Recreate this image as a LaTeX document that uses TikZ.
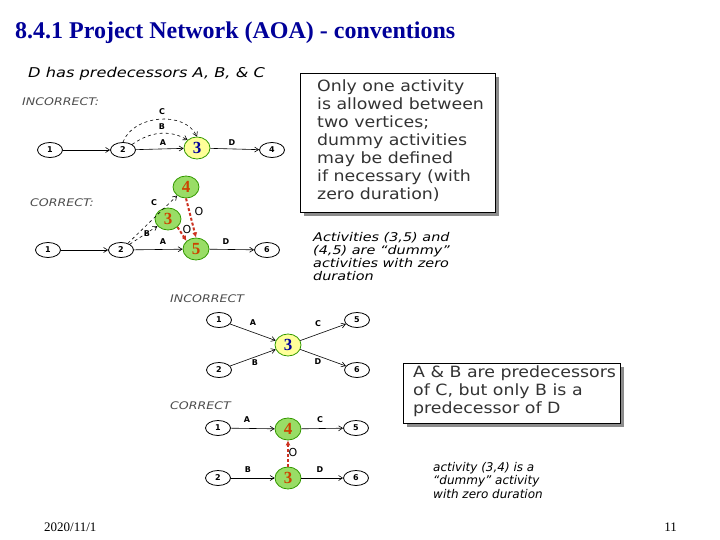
\documentclass[tikz,border=0pt]{standalone}
\usepackage{fontspec}
\setmainfont{Liberation Serif}
\setsansfont{DejaVu Sans}
\newfontfamily\boxfont[FakeStretch=1.12,Ligatures=TeX]{DejaVu Sans}
\newfontfamily\wideit[FakeStretch=1.2,Ligatures=TeX]{DejaVu Sans Oblique}
\usetikzlibrary{arrows.meta,shapes.geometric,positioning}

\definecolor{titleblue}{HTML}{000099}
\definecolor{evgreen}{HTML}{339900}
\definecolor{evfill}{HTML}{99DD66}
\definecolor{evyellow}{HTML}{FFFF99}
\definecolor{evorange}{HTML}{CC4400}
\definecolor{dummyred}{HTML}{CC3322}

\begin{document}
\begin{tikzpicture}[x=1pt, y=-1pt, >={Straight Barb[length=4pt,width=5pt]},
    event/.style={draw, ellipse, thick, minimum width=25pt, minimum height=15pt, inner sep=0pt, font=\sffamily\bfseries\fontsize{8}{8}\selectfont},
    keyevent/.style={draw=evgreen, fill=evyellow, ellipse, thick, minimum width=26pt, minimum height=22pt, inner sep=0pt, text=titleblue, font=\bfseries\fontsize{17}{17}\selectfont},
    dummyevent/.style={draw=evgreen, fill=evfill, ellipse, thick, minimum width=26pt, minimum height=22pt, inner sep=0pt, text=evorange, font=\bfseries\fontsize{17}{17}\selectfont},
    act/.style={->, semithick},
    actdash/.style={->, semithick, dashed},
    dummy/.style={-{Latex[length=5pt,width=5pt]}, dummyred, line width=2pt, dash pattern=on 3pt off 2pt},
    lbl/.style={font=\sffamily\bfseries\fontsize{8}{8}\selectfont, inner sep=0pt},
    zero/.style={font=\sffamily\fontsize{11}{11}\selectfont, inner sep=0pt},
    heading/.style={font=\wideit\fontsize{10.5}{10.5}\selectfont, text=black!70, anchor=west, inner sep=0pt},
    note/.style={font=\wideit\fontsize{12}{13}\selectfont, align=left, anchor=north west, inner sep=0pt},
    boxtext/.style={font=\boxfont\fontsize{15.5}{18}\selectfont, align=left, anchor=north west, inner sep=0pt, text=black!80}]
  \useasboundingbox (0,0) rectangle (720,540);

  % title and footer
  \node[anchor=west, inner sep=0pt, text=titleblue, font=\bfseries\fontsize{24}{24}\selectfont] (title) at (15,33) {8.4.1 Project Network (AOA) - conventions};
  \node[anchor=west, inner sep=0pt, font=\fontsize{13}{13}\selectfont] (date) at (44,527) {2020/11/1};
  \node[anchor=east, inner sep=0pt, font=\fontsize{13}{13}\selectfont] (page) at (677,527) {11};

  % top part: D has predecessors A, B and C
  \node[anchor=west, inner sep=0pt, font=\wideit\fontsize{13.5}{13.5}\selectfont] (headD) at (28,74) {D has predecessors A, B, \& C};
  \node[heading] (wrong1) at (22,102) {INCORRECT:};
  \node[event] (i1) at (50,150) {1};
  \node[event] (i2) at (123,150) {2};
  \node[keyevent] (i3) at (197,148) {3};
  \node[event] (i4) at (272,150) {4};
  \draw[act] (i1) -- (i2);
  \draw[act] (i2) -- (i3);
  \draw[act] (i3) -- (i4);
  \draw[actdash] (i2.north) to[out=70, in=115] (i3.north);
  \draw[actdash] (i2.north east) to[out=35, in=150] (i3.north west);
  \node[lbl] (iC) at (162,112) {C};
  \node[lbl] (iB) at (162,127) {B};
  \node[lbl] (iA) at (163,143) {A};
  \node[lbl] (iD) at (232,143) {D};

  \node[heading] (right1) at (30,203) {CORRECT:};
  \node[event] (c1) at (48,250) {1};
  \node[event] (c2) at (121,250) {2};
  \node[dummyevent] (c4) at (186,187) {4};
  \node[dummyevent] (c3) at (168,219) {3};
  \node[dummyevent] (c5) at (196,249) {5};
  \node[event] (c6) at (267,250) {6};
  \draw[act] (c1) -- (c2);
  \draw[act] (c2) -- (c5);
  \draw[act] (c5) -- (c6);
  \draw[actdash] (c2) -- (c4);
  \draw[actdash] (c2) -- (c3);
  \draw[dummy] (c4.south) -- (c5.north);
  \draw[dummy] (c3.south east) -- (c5.north west);
  \node[lbl] (cC) at (154,203) {C};
  \node[lbl] (cB) at (147,234) {B};
  \node[lbl] (cA) at (163,242) {A};
  \node[lbl] (cD) at (226,242) {D};
  \node[zero] (c45) at (199,211) {O};
  \node[zero] (c35) at (187,229) {O};

  \fill[black!45] (304,77) rectangle (499,216);
  \draw[fill=white, semithick] (300,73) rectangle (495,212);
  \node[boxtext] (rule) at (317,80) {Only one activity\\is allowed between\\two vertices;\\dummy activities\\may be defined\\if necessary (with\\zero duration)};
  \node[note] (dummynote) at (313,232) {Activities (3,5) and\\(4,5) are ``dummy''\\activities with zero\\duration};

  % middle part: A and B before C, only B before D
  \node[heading] (wrong2) at (170,299) {INCORRECT};
  \node[event] (m1) at (219,320) {1};
  \node[event] (m2) at (219,370) {2};
  \node[keyevent] (m3) at (288,345) {3};
  \node[event] (m5) at (357,320) {5};
  \node[event] (m6) at (357,370) {6};
  \draw[act] (m1) -- (m3);
  \draw[act] (m2) -- (m3);
  \draw[act] (m3) -- (m5);
  \draw[act] (m3) -- (m6);
  \node[lbl] (mA) at (253,323) {A};
  \node[lbl] (mB) at (255,363) {B};
  \node[lbl] (mC) at (318,324) {C};
  \node[lbl] (mD) at (318,362) {D};

  \node[heading] (right2) at (170,406) {CORRECT};
  \node[event] (k1) at (218,428) {1};
  \node[dummyevent] (k4) at (288,429) {4};
  \node[event] (k5) at (356,428) {5};
  \node[event] (k2) at (218,478) {2};
  \node[dummyevent] (k3) at (288,478) {3};
  \node[event] (k6) at (356,478) {6};
  \draw[act] (k1) -- (k4);
  \draw[act] (k4) -- (k5);
  \draw[act] (k2) -- (k3);
  \draw[act] (k3) -- (k6);
  \draw[dummy] (k3.north) -- (k4.south);
  \node[lbl] (kA) at (247,420) {A};
  \node[lbl] (kC) at (320,420) {C};
  \node[lbl] (kB) at (248,470) {B};
  \node[lbl] (kD) at (320,470) {D};
  \node[zero] (k34) at (293,452) {O};

  \fill[black!45] (407,367) rectangle (624,427);
  \draw[fill=white, semithick] (403,363) rectangle (620,423);
  \node[boxtext] (prednote) at (413,366) {A \& B are predecessors\\of C, but only B is a\\predecessor of D};
  \node[note, font=\sffamily\itshape\fontsize{12}{13.5}\selectfont] (k34note) at (433,462) {activity (3,4) is a\\``dummy'' activity\\with zero duration};
\end{tikzpicture}
\end{document}
